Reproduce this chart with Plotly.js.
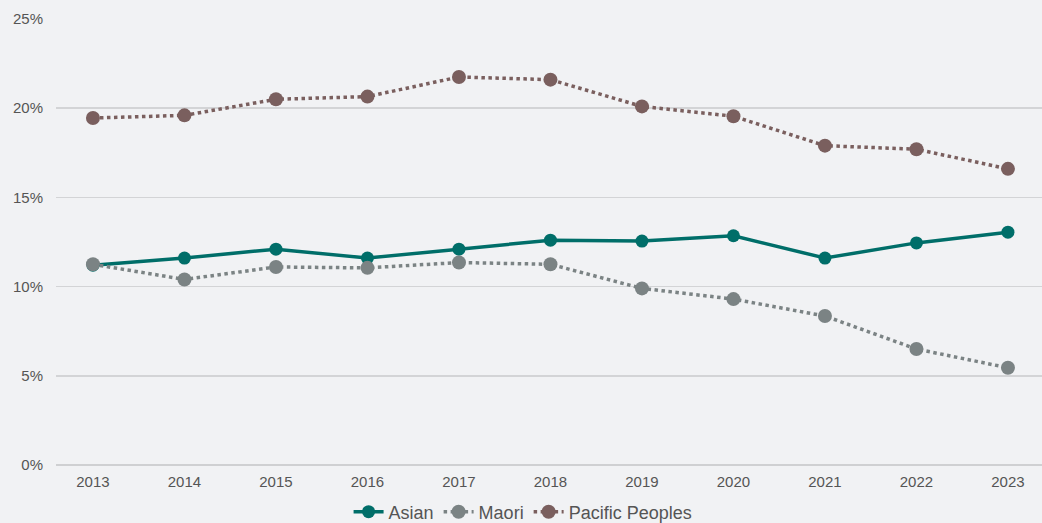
<!DOCTYPE html>
<html>
<head>
<meta charset="utf-8">
<script src="https://cdn.plot.ly/plotly-3.0.1.min.js"></script>
<style>
  html, body { margin: 0; padding: 0; background: #f1f2f4; }
  #chart { width: 1042px; height: 523px; }
</style>
</head>
<body>
<div id="chart"></div>
<script>
// Share of each group by year (percent)
const years = [2013, 2014, 2015, 2016, 2017, 2018, 2019, 2020, 2021, 2022, 2023];
const asian = [11.2, 11.6, 12.1, 11.6, 12.1, 12.6, 12.55, 12.85, 11.6, 12.45, 13.05];
const maori = [11.25, 10.4, 11.1, 11.05, 11.35, 11.25, 9.9, 9.3, 8.35, 6.5, 5.45];
const pacific = [19.45, 19.6, 20.5, 20.65, 21.75, 21.6, 20.1, 19.55, 17.9, 17.7, 16.6];
const yTicks = [0, 5, 10, 15, 20, 25];
const yTickText = ['0%', '5%', '10%', '15%', '20%', '25%'];

const traces = [
  {
    x: years, y: asian, name: 'Asian', type: 'scatter', mode: 'lines+markers',
    line: { color: '#006e69', width: 3.5 },
    marker: { color: '#006e69', size: 13 }
  },
  {
    x: years, y: maori, name: 'Maori', type: 'scatter', mode: 'lines+markers',
    line: { color: '#7b8384', width: 3.5, dash: 'dot' },
    marker: { color: '#7b8384', size: 14 }
  },
  {
    x: years, y: pacific, name: 'Pacific Peoples', type: 'scatter', mode: 'lines+markers',
    line: { color: '#7a5f5e', width: 3.5, dash: 'dot' },
    marker: { color: '#7a5f5e', size: 14 }
  }
];

const layout = {
  width: 1042, height: 523,
  paper_bgcolor: '#f1f2f4', plot_bgcolor: '#f1f2f4',
  margin: { l: 56, r: 0, t: 19, b: 58, autoexpand: false },
  font: { family: '"Liberation Sans", Arial, sans-serif', color: '#555555', size: 15 },
  showlegend: true,
  legend: {
    orientation: 'h', xref: 'container', yref: 'container',
    x: 0.502, xanchor: 'center', y: 0.021, yanchor: 'middle',
    bgcolor: 'rgba(0,0,0,0)',
    font: { size: 18, color: '#555555' }, itemwidth: 30, tracegroupgap: 0
  },
  xaxis: {
    range: [2012.596, 2023.372], tickmode: 'array', tickvals: years,
    ticktext: years.map(String), showgrid: false, zeroline: false,
    showline: false, ticks: '', ticklabelstandoff: 6, fixedrange: true
  },
  yaxis: {
    range: [0, 25], tickmode: 'array', tickvals: yTicks, ticktext: yTickText,
    showgrid: true, gridcolor: '#d3d4d6', gridwidth: 1.5, zeroline: true,
    zerolinecolor: '#cfd0d2', zerolinewidth: 1.5, showline: false,
    ticks: '', ticklabelstandoff: 12, fixedrange: true
  }
};

Plotly.newPlot('chart', traces, layout, { displayModeBar: false, staticPlot: true });
</script>
</body>
</html>
